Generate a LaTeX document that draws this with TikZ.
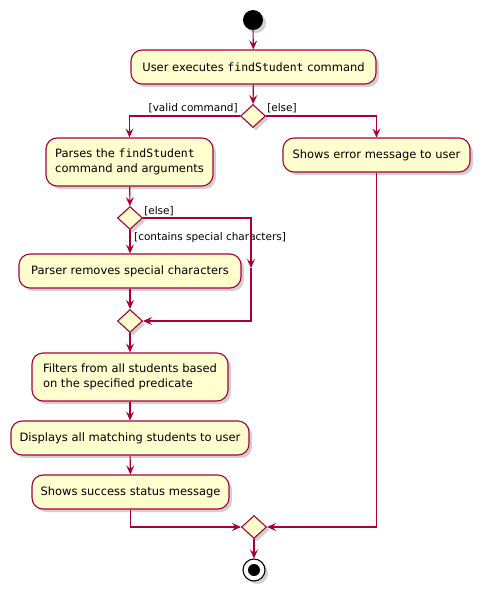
\documentclass[tikz,border=0pt]{standalone}
\usepackage{fontspec}
\setmainfont{DejaVu Sans}
\setmonofont{DejaVu Sans Mono}
\usetikzlibrary{arrows.meta,shapes.geometric,shadows,calc}
\definecolor{pred}{HTML}{A80036}
\definecolor{pfill}{HTML}{FEFECE}
\begin{document}
\begin{tikzpicture}[x=1pt,y=-1pt,
  shad/.style={drop shadow={shadow xshift=3pt,shadow yshift=-3pt,opacity=0.3,fill=black!60}},
  act/.style={draw=pred, fill=pfill, line width=1.1pt, rounded corners=11pt, shad,
    font=\fontsize{11.5}{14.5}\selectfont, align=left, inner sep=0pt},
  dec/.style={diamond, aspect=1, draw=pred, fill=pfill, line width=1.1pt,
    minimum width=25pt, minimum height=23pt, inner sep=0pt, shad},
  flow/.style={draw=pred, line width=1.1pt, -{Stealth[length=9pt,width=8pt,inset=3.5pt]}},
  lbl/.style={font=\fontsize{10.5}{12}\selectfont, inner sep=1pt}
]
\useasboundingbox (0,0) rectangle (486,597);

\node[circle, fill=black, minimum size=20pt, inner sep=0pt, shad] (start) at (253,20) {};

\node[act, minimum width=245pt, minimum height=34pt, align=center] (a1) at (253.5,67)
  {User executes \texttt{findStudent} command};
\node[dec] (d1) at (253,116) {};

\node[act, minimum width=167pt, minimum height=48pt] (a2) at (129.5,162)
  {Parses the \texttt{findStudent}\\command and arguments};
\node[act, minimum width=187pt, minimum height=34pt, align=center] (a3) at (376.5,155)
  {Shows error message to user};

\node[dec] (d2) at (130,218) {};
\node[act, minimum width=222pt, minimum height=34pt, align=center] (a4) at (130,271)
  {Parser removes special characters};
\node[dec] (d3) at (130,321) {};
\coordinate (m1) at (251,268);

\node[act, minimum width=196pt, minimum height=48pt] (a5) at (130,377)
  {Filters from all students based\\on the specified predicate};
\node[act, minimum width=238pt, minimum height=34pt, align=center] (a6) at (130,438)
  {Displays all matching students to user};
\node[act, minimum width=197pt, minimum height=34pt, align=center] (a7) at (130.5,492)
  {Shows success status message};

\node[dec] (d4) at (254,527) {};
\node[circle, draw=black, fill=white, line width=1.1pt, minimum size=22pt, inner sep=0pt, shad,
  path picture={\fill[black] (path picture bounding box.center) circle (6pt);}] (end) at (254,570) {};

% connectors
\draw[flow] (start) -- (a1);
\draw[flow] (a1) -- (d1);
\draw[flow] (d1.west) -| (a2.north);
\draw[flow] (d1.east) -| (a3.north);
\node[lbl, anchor=south east] at ($(d1.west)+(-1,-2)$) {[valid command]};
\node[lbl, anchor=south west] at ($(d1.east)+(0,-2)$) {[else]};

\draw[flow] (a2) -- (d2);
\draw[flow] (d2) -- (a4);
\node[lbl, anchor=north west] at ($(d2.south)+(3,1)$) {[contains special characters]};
\draw[flow] (d2.east) -| (m1);
\draw[flow] (m1) |- (d3.east);
\node[lbl, anchor=south west] at ($(d2.east)+(0,-1)$) {[else]};
\draw[flow] (a4) -- (d3);

\draw[flow] (d3) -- (a5);
\draw[flow] (a5) -- (a6);
\draw[flow] (a6) -- (a7);
\draw[flow] (a7.south) |- (d4.west);
\draw[flow] (a3.south) |- (d4.east);
\draw[flow] (d4) -- (end);
\end{tikzpicture}
\end{document}
